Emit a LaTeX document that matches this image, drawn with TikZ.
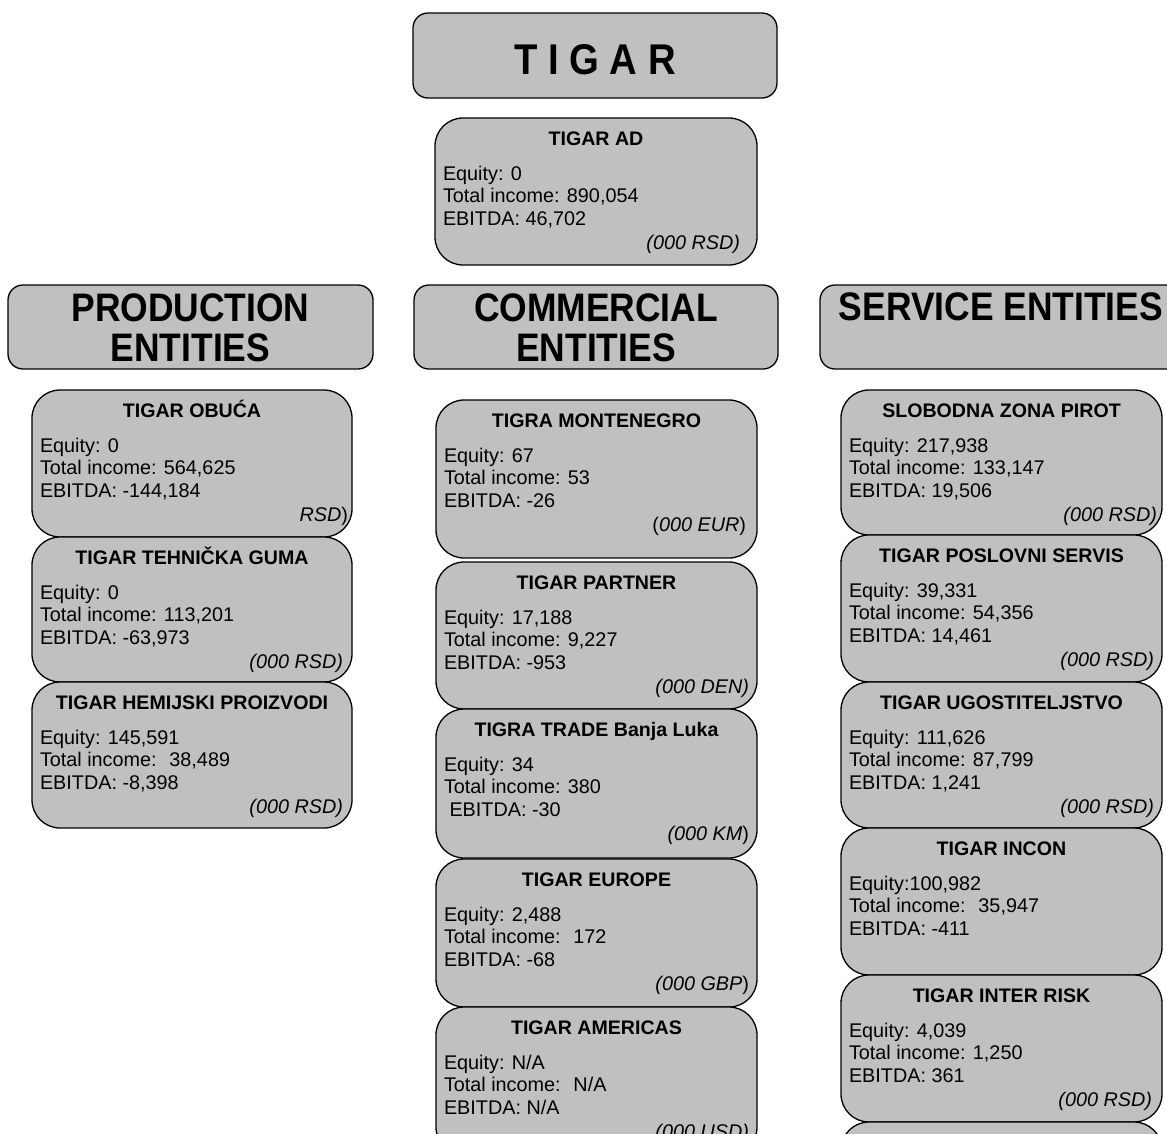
\documentclass[tikz,border=0pt]{standalone}
\usepackage{fontspec}
\setmainfont{Liberation Sans}
\newfontfamily\hdrfont{Liberation Sans}[FakeStretch=0.89]
\definecolor{boxgray}{HTML}{C0C0C0}
\tikzset{
  basebox/.style={draw=black, line width=1.3pt, fill=boxgray, outer sep=0pt, inner sep=0pt},
  hdrbox/.style={basebox, rounded corners=15pt},
  entbox/.style={basebox, rounded corners=28pt},
  txt/.style={inner sep=0pt, outer sep=0pt, font=\fontsize{19.8}{22.5}\selectfont},
  ttl/.style={inner sep=0pt, outer sep=0pt, font=\fontsize{19.6}{22.5}\selectfont\bfseries},
  hdr/.style={inner sep=0pt, outer sep=0pt, font=\hdrfont\bfseries\fontsize{39.8}{40}\selectfont},
  bigttl/.style={inner sep=0pt, outer sep=0pt, font=\hdrfont\bfseries\fontsize{43}{43}\selectfont},
}
% style, name, x1, y1, x2, y2
\newcommand\mkbox[6]{%
  \node[#1, anchor=north west, minimum width=#5pt-#3pt, minimum height=#6pt-#4pt] (#2) at (#3,#4) {};}
% name, title, line1, line2, line3, unit, right margin
\newcommand\mktext[7]{%
  \node[ttl, anchor=base] (#1-t) at ([yshift=-27pt]#1.north) {#2};
  \node[txt, anchor=base west] (#1-a) at ([xshift=8pt,yshift=-62pt]#1.north west) {#3};
  \node[txt, anchor=base west] (#1-b) at ([xshift=8pt,yshift=-84.5pt]#1.north west) {#4};
  \node[txt, anchor=base west] (#1-c) at ([xshift=8pt,yshift=-107pt]#1.north west) {#5};
  \node[txt, anchor=base east] (#1-u) at ([xshift=-#7pt,yshift=-131pt]#1.north east) {#6};}
\begin{document}
\begin{tikzpicture}[x=1pt, y=-1pt]
\useasboundingbox (0,0) rectangle (1167,1133);
\clip (0,0) rectangle (1167,1133);

% top
\mkbox{hdrbox}{tigar}{413}{13}{777}{98}
\node[bigttl, anchor=base] (tigar-t) at ([yshift=-61pt]tigar.north) {T I G A R};
\mkbox{entbox}{ad}{435}{118}{757}{265}
\mktext{ad}{TIGAR AD}{Equity: 0}{Total income: 890,054}{EBITDA: 46,702}{\textit{(000 RSD)}}{17}

% headers
\mkbox{hdrbox}{prodh}{8}{285}{373}{369}
\node[hdr, anchor=base] (prodh-1) at ([yshift=-36.5pt]prodh.north) {PRODUCTION};
\node[hdr, anchor=base] (prodh-2) at ([yshift=-76.7pt]prodh.north) {ENTITIES};
\mkbox{hdrbox}{comh}{414}{285}{778}{369}
\node[hdr, anchor=base] (comh-1) at ([yshift=-36.5pt]comh.north) {COMMERCIAL};
\node[hdr, anchor=base] (comh-2) at ([yshift=-76.7pt]comh.north) {ENTITIES};
\mkbox{hdrbox}{serh}{820}{285}{1182}{369}
\node[hdr, anchor=base] (serh-1) at ([yshift=-35pt]serh.north) {SERVICE ENTITIES};

% production
\mkbox{entbox}{p1}{32}{390}{352}{537}
\mktext{p1}{TIGAR OBUĆA}{Equity: 0}{Total income: 564,625}{EBITDA: -144,184}{\textit{RSD})}{4}
\mkbox{entbox}{p2}{32}{537}{352}{682}
\mktext{p2}{TIGAR TEHNIČKA GUMA}{Equity: 0}{Total income: 113,201}{EBITDA: -63,973}{\textit{(000 RSD)}}{9}
\mkbox{entbox}{p3}{32}{682}{352}{828}
\mktext{p3}{TIGAR HEMIJSKI PROIZVODI}{Equity: 145,591}{Total income: \ 38,489}{EBITDA: -8,398}{\textit{(000 RSD)}}{9}

% commercial
\mkbox{entbox}{c1}{436}{400}{757}{558}
\mktext{c1}{TIGRA MONTENEGRO}{Equity: 67}{Total income: 53}{EBITDA: -26}{(\textit{000 EUR})}{11}
\mkbox{entbox}{c2}{436}{562}{757}{709}
\mktext{c2}{TIGAR PARTNER}{Equity: 17,188}{Total income: 9,227}{EBITDA: -953}{\textit{(000 DEN)}}{8}
\mkbox{entbox}{c3}{436}{709}{757}{858}
\mktext{c3}{TIGRA TRADE Banja Luka}{Equity: 34}{Total income: 380}{\ EBITDA: -30}{\textit{(000 KM})}{8}
\mkbox{entbox}{c4}{436}{859}{757}{1007}
\mktext{c4}{TIGAR EUROPE}{Equity: 2,488}{Total income: \ 172}{EBITDA: -68}{\textit{(000 GBP})}{8}
\mkbox{entbox}{c5}{436}{1007}{757}{1155}
\mktext{c5}{TIGAR AMERICAS}{Equity: N/A}{Total income: \ N/A}{EBITDA: N/A}{\textit{(000 USD)}}{8}

% service
\mkbox{entbox}{s1}{841}{390}{1162}{535}
\mktext{s1}{SLOBODNA ZONA PIROT}{Equity: 217,938}{Total income: 133,147}{EBITDA: 19,506}{\textit{(000 RSD)}}{5}
\mkbox{entbox}{s2}{841}{535}{1162}{682}
\mktext{s2}{TIGAR POSLOVNI SERVIS}{Equity: 39,331}{Total income: 54,356}{EBITDA: 14,461}{\textit{(000 RSD)}}{8}
\mkbox{entbox}{s3}{841}{682}{1162}{828}
\mktext{s3}{TIGAR UGOSTITELJSTVO}{Equity: 111,626}{Total income: 87,799}{EBITDA: 1,241}{\textit{(000 RSD)}}{8}
\mkbox{entbox}{s4}{841}{828}{1162}{975}
\mktext{s4}{TIGAR INCON}{Equity:100,982}{Total income: \ 35,947}{EBITDA: -411}{}{8}
\mkbox{entbox}{s5}{841}{975}{1162}{1122}
\mktext{s5}{TIGAR INTER RISK}{Equity: 4,039}{Total income: 1,250}{EBITDA: 361}{\textit{(000 RSD)}}{10}
\mkbox{entbox}{s6}{841}{1122}{1162}{1269}
\end{tikzpicture}
\end{document}
